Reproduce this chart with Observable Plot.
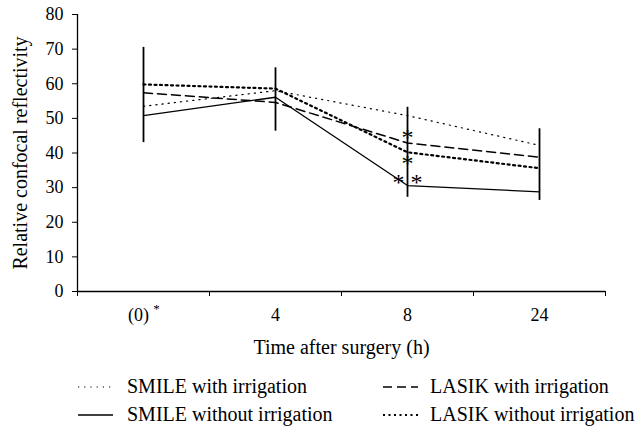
<!DOCTYPE html>
<html>
<head>
<meta charset="utf-8">
<script src="https://cdn.jsdelivr.net/npm/d3@7"></script>
<script src="https://cdn.jsdelivr.net/npm/@observablehq/plot@0.6"></script>
<style>
  body { margin: 0; background: #fff; font-family: "Liberation Serif", "Times New Roman", serif; }
  #wrap { position: relative; width: 643px; height: 429px; }
  #legend { position: absolute; left: 0; top: 0; width: 643px; height: 429px; pointer-events: none; }
</style>
</head>
<body>
<div id="wrap"><div id="chart"></div><svg id="legend" width="643" height="429"></svg></div>
<script>
// ---- data ----
const timeLabels = ["(0)", "4", "8", "24"];
const timeIndex = [0, 1, 2, 3];
const yTicks = [0, 10, 20, 30, 40, 50, 60, 70, 80];

const seriesNames = ["SMILE with irrigation", "SMILE without irrigation", "LASIK with irrigation", "LASIK without irrigation"];
const smileWith    = [53.5, 58.0, 50.8, 42.2];
const smileWithout = [50.8, 56.1, 30.6, 28.8];
const lasikWith    = [57.4, 54.6, 42.9, 38.8];
const lasikWithout = [59.8, 58.6, 40.2, 35.6];

// combined error-bar extent per time point (low, high)
const errLow  = [43.0, 46.3, 27.2, 26.3];
const errHigh = [70.5, 64.6, 53.2, 47.0];

// significance markers at 8 h
const starTime  = [2, 2, 2];
const starValue = [46.0, 38.4, 32.9];
const starText  = ["*", "*", "* *"];

// ---- build ----
const font = "'Liberation Serif', 'Times New Roman', serif";
const mk = (vals) => vals.map((v, i) => ({t: timeIndex[i], v}));
const styles = [
  {strokeWidth: 1.2, strokeDasharray: "1.2,5"},
  {strokeWidth: 1.3, strokeDasharray: null},
  {strokeWidth: 1.5, strokeDasharray: "9,5"},
  {strokeWidth: 2.2, strokeDasharray: "2,3.5"}
];
const seriesVals = [smileWith, smileWithout, lasikWith, lasikWithout];

const errData = timeIndex.map((t, i) => ({t, lo: errLow[i], hi: errHigh[i]}));
const stars = starTime.map((t, i) => ({t, v: starValue[i], s: starText[i]}));
const boundaries = [-0.5, 0.5, 1.5, 2.5, 3.5];

const plot = Plot.plot({
  width: 643,
  height: 429,
  marginTop: 14,
  marginBottom: 138,
  marginLeft: 77,
  marginRight: 38,
  style: {fontFamily: font, fontSize: "18px", color: "#000", background: "transparent"},
  x: {type: "linear", domain: [-0.5, 3.5]},
  y: {domain: [0, 80]},
  marks: [
    Plot.axisY({ticks: yTicks, tickSize: 5, tickPadding: 9, label: null, fontSize: 18}),
    Plot.axisX({ticks: boundaries, tickSize: 5, tickFormat: () => "", label: null}),
    Plot.ruleX([-0.5], {stroke: "#000", strokeWidth: 1.3}),
    Plot.ruleY([0], {stroke: "#000", strokeWidth: 1.3}),
    ...seriesVals.map((vals, i) => Plot.line(mk(vals), {
      x: "t", y: "v", stroke: "#000",
      strokeWidth: styles[i].strokeWidth,
      strokeDasharray: styles[i].strokeDasharray
    })),
    Plot.ruleX(errData, {x: "t", y1: "lo", y2: "hi", stroke: "#000", strokeWidth: 1.8}),
    Plot.text(stars, {x: "t", y: "v", text: "s", fontSize: 24, lineAnchor: "bottom", dy: 12.5, fill: "#000"}),
    Plot.text(timeIndex.slice(1), {x: d => d, y: () => 0, text: d => timeLabels[d], dy: 24, lineAnchor: "middle", fontSize: 18}),
    Plot.text([timeIndex[0]], {x: d => d, y: () => 0, text: d => timeLabels[d], dy: 24, dx: -5, lineAnchor: "middle", fontSize: 18}),
    Plot.text([timeIndex[0]], {x: d => d, y: () => 0, text: () => "*", dy: 21, dx: 13, lineAnchor: "bottom", fontSize: 13}),
    Plot.text(["Time after surgery (h)"], {frameAnchor: "bottom", dy: 56, lineAnchor: "middle", textAnchor: "middle", fontSize: 20}),
    Plot.text(["Relative confocal reflectivity"], {frameAnchor: "left", dx: -57, rotate: -90, lineAnchor: "middle", textAnchor: "middle", fontSize: 20})
  ]
});
document.getElementById("chart").appendChild(plot);

// ---- legend ----
const lg = d3.select("#legend");
const legendPos = [
  {x1: 78, x2: 115, tx: 127, y: 387},
  {x1: 78, x2: 113, tx: 127, y: 415},
  {x1: 383, x2: 418, tx: 430, y: 387},
  {x1: 383, x2: 418, tx: 430, y: 415}
];
seriesNames.forEach((name, i) => {
  const p = legendPos[i];
  lg.append("line").attr("x1", p.x1).attr("x2", p.x2).attr("y1", p.y).attr("y2", p.y)
    .attr("stroke", "#000").attr("stroke-width", styles[i].strokeWidth)
    .attr("stroke-dasharray", styles[i].strokeDasharray);
  lg.append("text").attr("x", p.tx).attr("y", p.y).attr("dy", "0.32em")
    .attr("font-family", font).attr("font-size", 20).attr("fill", "#000").text(name);
});
</script>
</body>
</html>
